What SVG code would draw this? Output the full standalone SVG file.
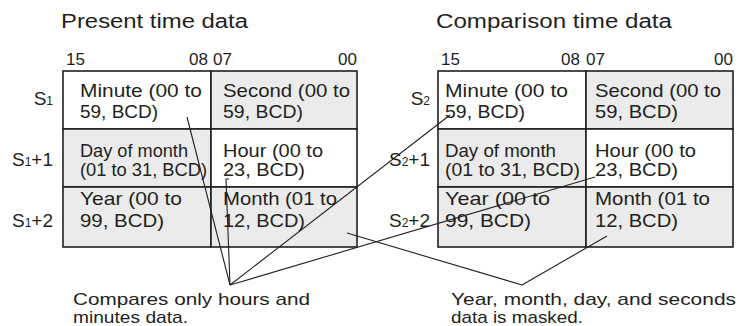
<svg xmlns="http://www.w3.org/2000/svg" width="738" height="326" viewBox="0 0 738 326">
<style>
text{font-family:"Liberation Sans",Arial,Helvetica,sans-serif;fill:#231f20}
.t{font-size:20px}
.h{font-size:17px}
.c{font-size:19px}
.d{font-size:17.5px}
.r{font-size:19px}
.s{font-size:12px}
.w{fill:#fff;stroke:#231f20;stroke-width:1.6}
.g{fill:#ebebeb;stroke:#231f20;stroke-width:1.6}
.ln{stroke:#231f20;stroke-width:1.1;fill:none}
</style>
<rect width="738" height="326" fill="#fff"/>
<g id="present">
<text class="t" x="61" y="28" textLength="187" lengthAdjust="spacingAndGlyphs">Present time data</text>
<text class="h" x="66" y="65">15</text>
<text class="h" x="208" y="65" text-anchor="end">08</text>
<text class="h" x="213" y="65">07</text>
<text class="h" x="357" y="65" text-anchor="end">00</text>
<rect class="w" x="63" y="71" width="148" height="58"/>
<rect class="g" x="211" y="71" width="146" height="58"/>
<rect class="g" x="63" y="129" width="148" height="58"/>
<rect class="w" x="211" y="129" width="146" height="58"/>
<rect class="g" x="63" y="187" width="148" height="60"/>
<rect class="g" x="211" y="187" width="146" height="60"/>
<text class="c" x="80" y="97" textLength="122" lengthAdjust="spacingAndGlyphs">Minute (00 to</text>
<text class="c" x="80" y="118" textLength="78" lengthAdjust="spacingAndGlyphs">59, BCD)</text>
<text class="c" x="223" y="97" textLength="127" lengthAdjust="spacingAndGlyphs">Second (00 to</text>
<text class="c" x="223" y="118" textLength="80" lengthAdjust="spacingAndGlyphs">59, BCD)</text>
<text class="d" x="80" y="157" textLength="108" lengthAdjust="spacingAndGlyphs">Day of month</text>
<text class="d" x="80" y="176" textLength="127" lengthAdjust="spacingAndGlyphs">(01 to 31, BCD)</text>
<text class="c" x="223" y="157" textLength="100" lengthAdjust="spacingAndGlyphs">Hour (00 to</text>
<text class="c" x="223" y="176" textLength="82" lengthAdjust="spacingAndGlyphs">23, BCD)</text>
<text class="c" x="80" y="205" textLength="102" lengthAdjust="spacingAndGlyphs">Year (00 to</text>
<text class="c" x="80" y="227" textLength="84" lengthAdjust="spacingAndGlyphs">99, BCD)</text>
<text class="c" x="223" y="205" textLength="114" lengthAdjust="spacingAndGlyphs">Month (01 to</text>
<text class="c" x="223" y="227" textLength="82" lengthAdjust="spacingAndGlyphs">12, BCD)</text>
<text class="r" x="53" y="105" text-anchor="end">S<tspan class="s">1</tspan></text>
<text class="r" x="53" y="166" text-anchor="end">S<tspan class="s">1</tspan>+1</text>
<text class="r" x="53" y="227" text-anchor="end">S<tspan class="s">1</tspan>+2</text>
</g>
<g id="comparison">
<text class="t" x="436" y="28" textLength="236" lengthAdjust="spacingAndGlyphs">Comparison time data</text>
<text class="h" x="441" y="65">15</text>
<text class="h" x="580" y="65" text-anchor="end">08</text>
<text class="h" x="586" y="65">07</text>
<text class="h" x="733" y="65" text-anchor="end">00</text>
<rect class="w" x="438" y="71" width="148" height="58"/>
<rect class="g" x="586" y="71" width="147" height="58"/>
<rect class="g" x="438" y="129" width="148" height="58"/>
<rect class="w" x="586" y="129" width="147" height="58"/>
<rect class="g" x="438" y="187" width="148" height="60"/>
<rect class="g" x="586" y="187" width="147" height="60"/>
<text class="c" x="445" y="97" textLength="123" lengthAdjust="spacingAndGlyphs">Minute (00 to</text>
<text class="c" x="445" y="118" textLength="80" lengthAdjust="spacingAndGlyphs">59, BCD)</text>
<text class="c" x="595" y="97" textLength="126" lengthAdjust="spacingAndGlyphs">Second (00 to</text>
<text class="c" x="595" y="118" textLength="83" lengthAdjust="spacingAndGlyphs">59, BCD)</text>
<text class="d" x="445" y="157" textLength="111" lengthAdjust="spacingAndGlyphs">Day of month</text>
<text class="d" x="445" y="176" textLength="135" lengthAdjust="spacingAndGlyphs">(01 to 31, BCD)</text>
<text class="c" x="595" y="157" textLength="101" lengthAdjust="spacingAndGlyphs">Hour (00 to</text>
<text class="c" x="595" y="176" textLength="83" lengthAdjust="spacingAndGlyphs">23, BCD)</text>
<text class="c" x="445" y="205" textLength="105" lengthAdjust="spacingAndGlyphs">Year (00 to</text>
<text class="c" x="445" y="227" textLength="86" lengthAdjust="spacingAndGlyphs">99, BCD)</text>
<text class="c" x="595" y="205" textLength="115" lengthAdjust="spacingAndGlyphs">Month (01 to</text>
<text class="c" x="595" y="227" textLength="83" lengthAdjust="spacingAndGlyphs">12, BCD)</text>
<text class="r" x="430" y="105" text-anchor="end">S<tspan class="s">2</tspan></text>
<text class="r" x="430" y="166" text-anchor="end">S<tspan class="s">2</tspan>+1</text>
<text class="r" x="430" y="227" text-anchor="end">S<tspan class="s">2</tspan>+2</text>
</g>
<g id="note-compare">
<text class="h" x="73" y="305" textLength="237" lengthAdjust="spacingAndGlyphs">Compares only hours and</text>
<text class="h" x="73" y="323" textLength="115" lengthAdjust="spacingAndGlyphs">minutes data.</text>
</g>
<g id="note-masked">
<text class="h" x="451" y="305" textLength="285" lengthAdjust="spacingAndGlyphs">Year, month, day, and seconds</text>
<text class="h" x="451" y="323" textLength="132" lengthAdjust="spacingAndGlyphs">data is masked.</text>
</g>
<g id="connectors" class="ln">
<line x1="230" y1="285" x2="187" y2="117"/>
<path d="M230 285 L226 179 L229 179"/>
<line x1="230" y1="285" x2="450" y2="115"/>
<line x1="230" y1="285" x2="595" y2="177"/>
<line x1="522" y1="285" x2="347" y2="233"/>
<line x1="522" y1="285" x2="607" y2="236"/>
</g>
</svg>
